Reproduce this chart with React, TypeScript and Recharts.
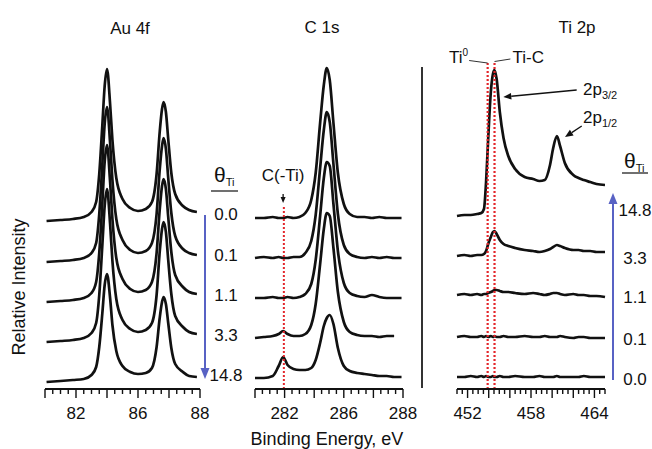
import React from "react";
import {
  LineChart,
  Line,
  XAxis,
  YAxis,
  ReferenceLine,
  ReferenceDot,
} from "recharts";

// ---- Au 4f ----
const auEnergy = [80.1, 81.0, 81.8, 82.5, 83.0, 83.3, 83.5, 83.7, 83.85, 84.0, 84.2, 84.35, 84.6, 85.0, 85.5, 86.0, 86.5, 86.9, 87.2, 87.4, 87.55, 87.65, 87.8, 87.95, 88.15, 88.4, 88.9, 89.3, 89.8];
const au00 = [0, 1, 2, 4, 9, 19, 47, 96, 135, 152, 117, 81, 43, 22, 13, 10, 12, 19, 47, 89, 112, 119, 109, 82, 48, 27, 15, 11, 9];
const au01 = [0, 1, 2, 4, 9, 19, 48, 98, 138, 155, 119, 82, 43, 22, 12, 9, 11, 19, 48, 92, 116, 124, 113, 84, 49, 26, 13, 9, 7];
const au11 = [0, 1, 2, 4, 9, 20, 49, 99, 140, 157, 120, 83, 44, 23, 13, 10, 12, 20, 49, 92, 116, 123, 113, 85, 50, 27, 15, 10, 8];
const au33 = [0, 1, 2, 4, 9, 19, 47, 97, 136, 153, 118, 81, 43, 22, 13, 10, 12, 19, 47, 90, 113, 120, 110, 82, 48, 26, 15, 10, 8];
const au148 = [0, 1, 2, 3, 7, 15, 35, 69, 97, 108, 84, 57, 31, 16, 10, 8, 9, 14, 35, 64, 80, 85, 78, 59, 34, 18, 10, 6, 5];
const auStackOffset = [168, 127, 87, 47, 7];
const auTickValues = [82, 86, 90];
const auTickLabels = ["82", "86", "88"];

// ---- C 1s ----
const cEnergy = [280.0, 280.6, 281.2, 281.6, 281.9, 282.2, 282.6, 283.0, 283.4, 283.8, 284.1, 284.4, 284.65, 284.85, 285.05, 285.3, 285.6, 286.0, 286.4, 286.9, 287.4, 287.9, 288.4, 288.9, 289.4, 289.9];
const c00 = [0, 0, 1, 0, 0, 1, 0, 1, 5, 18, 45, 95, 133, 150, 138, 95, 45, 14, 4, 1, 1, 0, 1, 0, 0, 0];
const c01 = [0, 1, 0, 1, 0, 0, 1, 1, 5, 17, 43, 90, 128, 146, 136, 94, 44, 13, 4, 1, 0, 1, 0, 1, 0, 0];
const c11 = [0, 0, 1, 0, 0, 1, 0, 1, 4, 14, 38, 82, 120, 136, 132, 94, 47, 15, 5, 2, 1, 3, 1, 0, 0, 0];
const c33 = [0, 1, 2, 4, 7, 4, 2, 2, 4, 13, 34, 74, 109, 125, 122, 90, 46, 16, 6, 3, 2, 2, 1, 2, 2, null];
const c148 = [0, 0, 2, 12, 21, 13, 9, 8, 8, 10, 18, 35, 52, 60, 63, 54, 30, 12, 7, 5, 4, 3, 2, 2, 1, 1];
const cStackOffset = [171, 131, 91, 51, 11];
const cTickValues = [282, 286, 290];
const cTickLabels = ["282", "286", "288"];

// ---- Ti 2p ----
const tiEnergy = [451.0, 451.7, 452.3, 452.9, 453.3, 453.55, 453.75, 453.95, 454.2, 454.4, 454.55, 454.75, 455.05, 455.4, 455.85, 456.5, 457.4, 458.2, 458.8, 459.3, 459.8, 460.1, 460.45, 460.75, 461.2, 462.0, 462.5, 463.0, 463.6, 464.2, 465.0];
const ti148 = [0, 1, 1, 2, 3, 7, 34, 77, 124, 142, 146, 137, 104, 78, 60, 47, 39, 37, 35, 36, 51, 68, 80, 70, 53, 41, 38, 36, 34, 32, 31];
const ti33 = [0, 1, 0, 1, 1, 2, 5, 12, 19, 24, 25, 22, 16, 12, 10, 8, 6, 5, 4, 5, 7, 9, 11, 10, 8, 6, 6, 5, 5, 4, 4];
const ti11 = [0, 1, 0, 1, 0, 1, 1, 2, 3, 4, 5, 5, 4, 3, 3, 2, 1, 2, 1, 0, 1, 2, 2, 1, 0, 1, 0, 0, -1, -1, -2];
const ti01 = [0, 1, 0, 0, 1, 0, 1, 0, 1, 0, 1, 0, 0, 1, 0, 0, 1, 0, 0, 1, 0, 0, 0, 1, 0, -1, 0, 0, -1, -1, -1];
const ti00 = [0, 0, 1, 0, 1, 0, 1, 0, 0, 1, 0, 0, 1, 0, 0, 1, 0, 0, 1, 0, 0, 0, 1, 0, 0, 0, 0, 1, 0, 0, 0];
const tiStackOffset = [173, 133, 94, 52, 12];
const tiTickValues = [452, 458, 464];
const tiTickLabels = ["452", "458", "464"];

const coverageDown = ["0.0", "0.1", "1.1", "3.3", "14.8"];
const coverageUp = ["14.8", "3.3", "1.1", "0.1", "0.0"];

const FONT = "'Liberation Sans', Arial, Helvetica, sans-serif";
const INK = "#111";
const RED = "#e3262b";
const BLUE = "#5862c4";
const TOP = 50;
const Y_MAX = 339;
const AXIS_Y = TOP + Y_MAX;
const PAD = 22;

const yPx = (v: number) => AXIS_Y - v;

function buildRows(energies: number[], series: (number | null)[][], offsets: number[]) {
  return energies.map((e, i) => {
    const row: Record<string, number | null> = { e };
    series.forEach((s, k) => {
      row["s" + k] = s[i] == null ? null : (s[i] as number) + offsets[k];
    });
    return row;
  });
}

function renderTick(p: any, values: number[], labels: string[]) {
  const { x, y, payload } = p;
  const v = payload.value;
  const major = Math.abs(v / 2 - Math.round(v / 2)) < 1e-6;
  const li = values.findIndex((t) => Math.abs(t - v) < 1e-6);
  return (
    <g>
      <line x1={x} x2={x} y1={y} y2={y + (major ? 9 : 5)} stroke={INK} strokeWidth={1.4} />
      {li >= 0 && (
        <text x={x} y={y + 30} textAnchor="middle" fontSize={17} fill={INK} fontFamily={FONT}>
          {labels[li]}
        </text>
      )}
    </g>
  );
}

const arrowShape = (head: number, width = 1.3) => (p: any) => {
  const { x1, y1, x2, y2 } = p;
  const a = Math.atan2(y2 - y1, x2 - x1);
  const hx = x2 - head * Math.cos(a);
  const hy = y2 - head * Math.sin(a);
  const w = head * 0.42;
  const px = -Math.sin(a) * w;
  const py = Math.cos(a) * w;
  return (
    <g>
      <line x1={x1} y1={y1} x2={hx} y2={hy} stroke={INK} strokeWidth={width} />
      <polygon points={`${x2},${y2} ${hx + px},${hy + py} ${hx - px},${hy - py}`} fill={INK} />
    </g>
  );
};

const textShape = (content: React.ReactNode, anchor: string = "start") => (p: any) => (
  <text x={p.cx} y={p.cy} textAnchor={anchor} fontSize={17} fill={INK} fontFamily={FONT}>
    {content}
  </text>
);

interface PanelProps {
  left: number;
  plotWidth: number;
  domain: [number, number];
  energies: number[];
  series: (number | null)[][];
  offsets: number[];
  tickValues: number[];
  tickLabels: string[];
  children?: React.ReactNode;
}

function SpectraPanel({ left, plotWidth, domain, energies, series, offsets, tickValues, tickLabels, children }: PanelProps) {
  const rows = buildRows(energies, series, offsets);
  const ticks: number[] = [];
  for (let k = 0; domain[0] + k * 0.5 <= domain[1] + 1e-9; k++) ticks.push(domain[0] + k * 0.5);
  return (
    <div style={{ position: "absolute", left: left - PAD, top: 0 }}>
      <LineChart
        width={plotWidth + 2 * PAD}
        height={449}
        data={rows}
        margin={{ top: TOP, right: PAD, bottom: 449 - AXIS_Y - 30, left: PAD }}
      >
        <XAxis
          type="number"
          dataKey="e"
          domain={domain}
          ticks={ticks}
          interval={0}
          height={30}
          tickSize={0}
          tickMargin={0}
          tickLine={false}
          axisLine={{ stroke: INK, strokeWidth: 2 }}
          tick={(p: any) => renderTick(p, tickValues, tickLabels)}
        />
        <YAxis type="number" domain={[0, Y_MAX]} hide />
        {series.map((_, k) => (
          <Line
            key={k}
            dataKey={"s" + k}
            type="monotone"
            stroke={INK}
            strokeWidth={2.7}
            dot={false}
            isAnimationActive={false}
          />
        ))}
        {children}
      </LineChart>
    </div>
  );
}

function Theta({ x, y }: { x: number; y: number }) {
  return (
    <text x={x} y={y} fontSize={21} fill={INK} fontFamily={FONT}>
      θ
      <tspan fontSize={11} dy={4}>Ti</tspan>
    </text>
  );
}

export default function App() {
  return (
    <div style={{ position: "absolute", left: 0, top: 0, width: 652, height: 449, background: "#fff", overflow: "hidden" }}>
      <SpectraPanel
        left={45}
        plotWidth={155}
        domain={[80, 90]}
        energies={auEnergy}
        series={[au00, au01, au11, au33, au148]}
        offsets={auStackOffset}
        tickValues={auTickValues}
        tickLabels={auTickLabels}
      />
      <SpectraPanel
        left={255}
        plotWidth={148}
        domain={[280, 290]}
        energies={cEnergy}
        series={[c00, c01, c11, c33, c148]}
        offsets={cStackOffset}
        tickValues={cTickValues}
        tickLabels={cTickLabels}
      >
        <ReferenceLine segment={[{ x: 281.95, y: 0 }, { x: 281.95, y: 182 }]} stroke={RED} strokeWidth={2} strokeDasharray="2 2" />
        <ReferenceLine segment={[{ x: 281.9, y: 195 }, { x: 281.9, y: 186 }]} shape={arrowShape(6)} />
        <ReferenceDot x={281.9} y={208} r={0} shape={textShape("C(-Ti)", "middle")} />
      </SpectraPanel>
      <SpectraPanel
        left={457}
        plotWidth={148}
        domain={[451, 465]}
        energies={tiEnergy}
        series={[ti148, ti33, ti11, ti01, ti00]}
        offsets={tiStackOffset}
        tickValues={tiTickValues}
        tickLabels={tiTickLabels}
      >
        <ReferenceLine segment={[{ x: 453.9, y: 0 }, { x: 453.9, y: 326 }]} stroke={RED} strokeWidth={2.2} strokeDasharray="2 2" />
        <ReferenceLine segment={[{ x: 454.55, y: 0 }, { x: 454.55, y: 327 }]} stroke={RED} strokeWidth={2.2} strokeDasharray="2 2" />
        <ReferenceLine segment={[{ x: 452.15, y: 328.5 }, { x: 453.9, y: 326 }]} stroke="#333" strokeWidth={1} />
        <ReferenceLine segment={[{ x: 454.55, y: 327.5 }, { x: 456.05, y: 330 }]} stroke="#333" strokeWidth={1} />
        <ReferenceDot x={452.05} y={326} r={0} shape={textShape(<>Ti<tspan fontSize={10} dy={-7}>0</tspan></>, "end")} />
        <ReferenceDot x={456.25} y={326} r={0} shape={textShape("Ti-C")} />
        <ReferenceLine segment={[{ x: 462.32, y: 299 }, { x: 455.38, y: 292 }]} shape={arrowShape(8)} />
        <ReferenceLine segment={[{ x: 462.8, y: 263 }, { x: 461.22, y: 252 }]} shape={arrowShape(8)} />
        <ReferenceDot x={462.92} y={294} r={0} shape={textShape(<>2p<tspan fontSize={11} dy={4}>3/2</tspan></>)} />
        <ReferenceDot x={462.92} y={266} r={0} shape={textShape(<>2p<tspan fontSize={11} dy={4}>1/2</tspan></>)} />
      </SpectraPanel>

      <svg width={652} height={449} style={{ position: "absolute", left: 0, top: 0, pointerEvents: "none" }} fontFamily={FONT}>
        <text x={130} y={34} textAnchor="middle" fontSize={17} fill={INK}>Au 4f</text>
        <text x={322} y={33} textAnchor="middle" fontSize={17} fill={INK}>C 1s</text>
        <text x={577} y={33} textAnchor="middle" fontSize={17} fill={INK}>Ti 2p</text>
        <text transform="translate(25,287) rotate(-90)" textAnchor="middle" fontSize={18} fill={INK}>Relative Intensity</text>
        <text x={327} y={445} textAnchor="middle" fontSize={18} fill={INK}>Binding Energy, eV</text>

        <line x1={422} x2={422} y1={67} y2={388} stroke="#333" strokeWidth={2} />

        <Theta x={214} y={182} />
        <line x1={211} x2={238} y1={191} y2={191} stroke={INK} strokeWidth={1.2} />
        {coverageDown.map((c, k) => (
          <text key={c} x={226} y={yPx(auStackOffset[k]) - 1} textAnchor="middle" fontSize={17} fill={INK}>{c}</text>
        ))}
        <line x1={205} x2={205} y1={215} y2={370} stroke={BLUE} strokeWidth={2} />
        <polygon points="200.5,368 209.5,368 205,379" fill={BLUE} />

        <Theta x={624} y={168} />
        <line x1={622} x2={648} y1={173} y2={173} stroke={INK} strokeWidth={1.2} />
        {coverageUp.map((c, k) => (
          <text key={c} x={635} y={yPx(tiStackOffset[k]) + (k === 0 ? 0 : 8)} textAnchor="middle" fontSize={17} fill={INK}>{c}</text>
        ))}
        <line x1={613} x2={613} y1={380} y2={203} stroke={BLUE} strokeWidth={2} />
        <polygon points="608.5,204 617.5,204 613,193" fill={BLUE} />
      </svg>
    </div>
  );
}
